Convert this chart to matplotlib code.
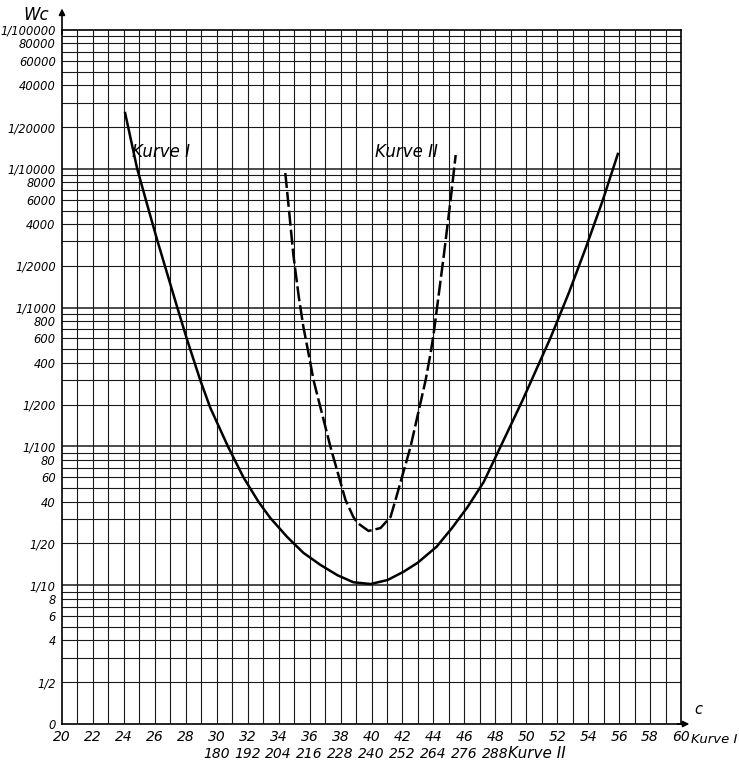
import numpy as np
import matplotlib
matplotlib.use("Agg")
import matplotlib.pyplot as plt

# Kurve I (solid): c vs Wc
c_1 = [24.08, 24.85, 25.48, 26.15, 27.44, 28.09, 28.93, 29.58, 30.74, 31.72, 32.69,
       33.46, 34.56, 35.60, 36.70, 37.80, 38.83, 39.94, 41.04, 42.07, 42.98, 44.20,
       45.20, 46.21, 47.25, 48.54, 49.77, 51.59, 52.75, 53.85, 54.95, 55.92]
w_1 = [25200, 10100, 5640, 3070, 1010, 584, 301, 190, 99, 60, 40,
       30.5, 22.2, 17.1, 14.0, 11.8, 10.5, 10.2, 10.9, 12.5, 14.5, 18.9,
       25.8, 36.6, 55.4, 111, 216, 614, 1275, 2700, 5960, 12800]

# Kurve II (dashed), plotted on the Kurve I axis (c_II = 6 * c_I)
c_2 = [34.43, 34.71, 34.95, 35.30, 35.60, 36.05, 36.25, 37.35, 38.32, 38.83,
       39.09, 39.81, 40.58, 41.23, 41.55, 42.52, 43.50, 43.82, 44.01, 44.66,
       45.11, 45.44]
w_2 = [9330, 4520, 2400, 1198, 725, 399, 301, 99, 41.1, 31.0,
       28.1, 24.6, 25.8, 31.0, 41.1, 99, 301, 471, 640, 2316,
       5960, 12570]

y_ticks = [1, 2, 4, 6, 8, 10, 20, 40, 60, 80, 100, 200, 400, 600, 800, 1000, 2000,
           4000, 6000, 8000, 10000, 20000, 40000, 60000, 80000, 100000]
y_labels = ["0", "1/2", "4", "6", "8", "1/10", "1/20", "40", "60", "80", "1/100",
            "1/200", "400", "600", "800", "1/1000", "1/2000", "4000", "6000", "8000",
            "1/10000", "1/20000", "40000", "60000", "80000", "1/100000"]
x_ticks = list(range(20, 61, 2))
x2_ticks = list(range(30, 49, 2))
x2_labels = [str(6 * v) for v in x2_ticks]

fig = plt.figure(figsize=(7.39, 7.66), dpi=100)
ax = fig.add_axes([62 / 739, 1 - 724 / 766, (681 - 62) / 739, (724 - 30) / 766])
ax.set_yscale("log")
ax.set_xlim(20, 60)
ax.set_ylim(1, 1e5)

# grid: every unit in c, every log step in Wc
gc = "#1a1a1a"
for xv in range(21, 60):
    ax.axvline(xv, color=gc, lw=0.8, zorder=1)
for dec in [1, 10, 100, 1000, 10000]:
    for m in range(2, 10):
        ax.axhline(dec * m, color=gc, lw=0.8, zorder=1)
    if dec > 1:
        ax.axhline(dec, color=gc, lw=1.1, zorder=1)

ax.plot(c_1, w_1, color="black", lw=1.8, zorder=3, solid_joinstyle="round")
ax.plot(c_2, w_2, color="black", lw=1.8, ls=(0, (6, 1.6)), zorder=3,
        dash_joinstyle="round")

ax.text(24.5, 13200, "Kurve I", fontsize=12, style="italic", va="center")
ax.text(40.25, 13200, "Kurve II", fontsize=12, style="italic", va="center")

ax.set_yticks(y_ticks)
ax.set_yticklabels(y_labels, fontsize=8.3, style="italic")
ax.yaxis.set_minor_locator(matplotlib.ticker.NullLocator())
ax.set_xticks(x_ticks)
ax.set_xticklabels([str(v) for v in x_ticks], fontsize=10, style="italic")
ax.tick_params(length=0)
ax.tick_params(axis="y", pad=4.5)
ax.tick_params(axis="x", pad=4.5)

for v, lab in zip(x2_ticks, x2_labels):
    ax.annotate(lab, (v, 1), xytext=(0, -27), textcoords="offset points",
                ha="center", va="bottom", fontsize=10, style="italic",
                annotation_clip=False)
ax.annotate("Kurve II", (48.8, 1), xytext=(0, -27), textcoords="offset points",
            ha="left", va="bottom", fontsize=11, style="italic", annotation_clip=False)
ax.annotate("Kurve I", (60, 1), xytext=(7, -16), textcoords="offset points",
            ha="left", va="bottom", fontsize=9.5, style="italic", annotation_clip=False)

for s in ax.spines.values():
    s.set_linewidth(1.2)

# axis arrows
ax.annotate("", xy=(0, 1.035), xytext=(0, 0.99), xycoords="axes fraction",
            arrowprops=dict(arrowstyle="-|>", color="black", lw=1.2, mutation_scale=9))
ax.annotate("", xy=(1.018, 0), xytext=(0.99, 0), xycoords="axes fraction",
            arrowprops=dict(arrowstyle="-|>", color="black", lw=1.2, mutation_scale=9))
ax.text(-0.042, 1.022, "Wc", transform=ax.transAxes, fontsize=12, style="italic",
        ha="center", va="center")
ax.text(1.022, 0.01, "c", transform=ax.transAxes, fontsize=10.5, style="italic",
        ha="left", va="bottom")

fig.savefig("out.png", dpi=100)
